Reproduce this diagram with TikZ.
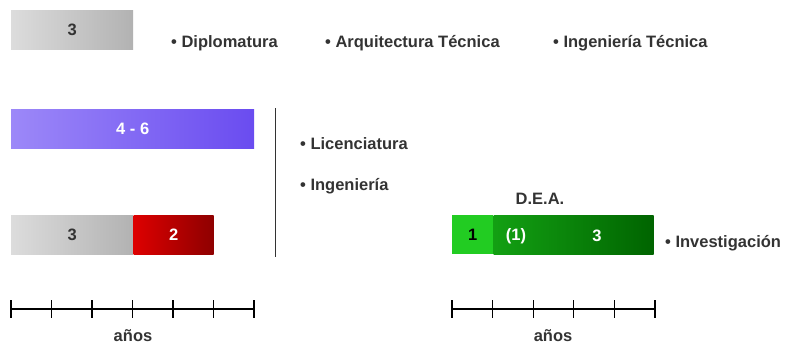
\documentclass[tikz,border=0pt]{standalone}
\usepackage{fontspec}
\setmainfont{Liberation Sans}
\usetikzlibrary{positioning}

\definecolor{txtgrey}{HTML}{333333}
\definecolor{greyL}{HTML}{DCDCDC}
\definecolor{greyR}{HTML}{B2B2B2}
\definecolor{lilaL}{HTML}{9C88F8}
\definecolor{lilaR}{HTML}{6A4CF0}
\definecolor{rojoL}{HTML}{DD0000}
\definecolor{rojoR}{HTML}{8E0000}
\definecolor{verdeC}{HTML}{22CC22}
\definecolor{verdeL}{HTML}{13A013}
\definecolor{verdeR}{HTML}{006400}

\begin{document}
\begin{tikzpicture}[x=1pt,y=-1pt,
  font=\fontsize{16.5}{19}\selectfont\bfseries, text=txtgrey,
  bar/.style={minimum height=39pt, inner sep=0pt, anchor=north west},
  item/.style={anchor=west, inner sep=0pt},
  eje/.style={line width=1.3pt}]
\useasboundingbox (0,0) rectangle (790,346);

% primer ciclo
\node[bar, minimum width=122pt, left color=greyL, right color=greyR] (diplo) at (11,10) {3};
\node[item] (dip) at (171,43) {• Diplomatura};
\node[item] (arq) at (325,43) {• Arquitectura Técnica};
\node[item] (ing) at (553,43) {• Ingeniería Técnica};

% segundo ciclo
\node[bar, minimum width=243pt, left color=lilaL, right color=lilaR, text=white] (lic) at (11,109) {4 - 6};
\node[bar, minimum width=122pt, left color=greyL, right color=greyR] (prim) at (11,215) {3};
\node[bar, minimum width=80pt, left color=rojoL, right color=rojoR, text=white] (seg) at (prim.north east) {2};
\draw[line width=1pt, txtgrey] (275,108) -- (275,257);
\node[item] (licen) at (300,144) {• Licenciatura};
\node[item] (inge) at (300,186) {• Ingeniería};

% tercer ciclo
\node[bar, minimum width=41pt, fill=verdeC, text=black] (dea) at (452,215) {1};
\node[bar, minimum width=160pt, left color=verdeL, right color=verdeR] (doc) at (dea.north east) {};
\node[text=white] (dea2) at (516,236) {(1)};
\node[text=white] (tres) at (597,236) {3};
\node (deatxt) at (540,199) {D.E.A.};
\node[item] (inv) at (665,243) {• Investigación};

% ejes
\draw[eje] (11,309) -- (254,309);
\foreach \i in {0,...,6}
  \draw[eje] (11+\i*40.5,300) -- ++(0,18);
\node[inner sep=1pt] (anos1) at (133,336) {años};

\draw[eje] (452,309) -- (655,309);
\foreach \i in {0,...,5}
  \draw[eje] (452+\i*40.6,300) -- ++(0,18);
\node[inner sep=1pt] (anos2) at (553,336) {años};
\end{tikzpicture}
\end{document}
